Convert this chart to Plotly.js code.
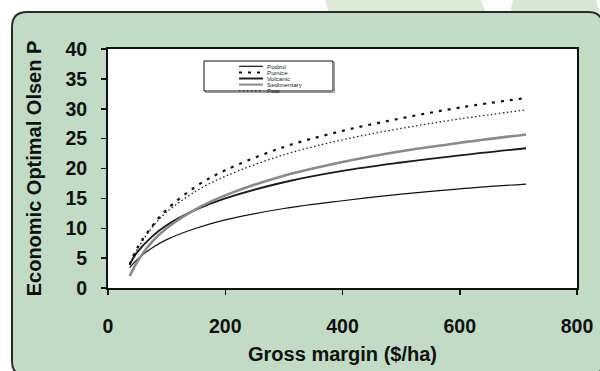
<!DOCTYPE html>
<html><head><meta charset="utf-8">
<script src="https://cdn.plot.ly/plotly-3.0.1.min.js"></script>
<style>html,body{margin:0;padding:0;background:#fff}#chart{width:600px;height:371px}</style>
</head><body><div id="chart"></div>
<script>
// ---- data ----
const grossMargin = [37, 50, 75, 100, 150, 200, 300, 400, 500, 600, 713];
const podzol      = [3.4, 4.8, 6.7, 8.1, 10.0, 11.4, 13.3, 14.6, 15.7, 16.6, 17.4];
const pumice      = [3.9, 6.7, 10.3, 13.1, 17.0, 19.7, 23.6, 26.3, 28.4, 30.2, 31.8];
const volcanic    = [4.0, 6.0, 8.6, 10.5, 13.1, 15.0, 17.7, 19.6, 21.0, 22.2, 23.4];
const sedimentary = [2.0, 4.4, 7.7, 10.0, 13.2, 15.5, 18.8, 21.1, 22.9, 24.3, 25.7];
const peat        = [3.8, 6.5, 10.1, 12.7, 16.2, 18.7, 22.3, 24.8, 26.7, 28.3, 29.8];
const seriesNames = ['Podzol', 'Pumice', 'Volcanic', 'Sedimentary', 'Peat'];
const xTickVals = [0, 200, 400, 600, 800];
const yTickVals = [0, 5, 10, 15, 20, 25, 30, 35, 40];
const xTitle = 'Gross margin ($/ha)';
const yTitle = 'Economic Optimal Olsen P';

// ---- geometry ----
const W = 600, H = 371, M = {l: 108, r: 23, t: 49, b: 83};
const PW = W - M.l - M.r, PH = H - M.t - M.b;
const X = px => (px - M.l) / PW;
const Y = py => (H - M.b - py) / PH;
const P = pts => pts.map((p, i) => (i ? 'L' : 'M') + X(p[0]).toFixed(5) + ',' + Y(p[1]).toFixed(5)).join(' ') + ' Z';

const styles = {
  Podzol:      {color: '#111', width: 1.2, dash: 'solid'},
  Pumice:      {color: '#111', width: 2.2, dash: '3px,6px'},
  Volcanic:    {color: '#1a1a1a', width: 1.9, dash: 'solid'},
  Sedimentary: {color: '#8a8a8a', width: 2.6, dash: 'solid'},
  Peat:        {color: '#222', width: 1.3, dash: '1.5px,2.5px'}
};
const seriesData = {Podzol: podzol, Pumice: pumice, Volcanic: volcanic, Sedimentary: sedimentary, Peat: peat};
const drawOrder = ['Podzol', 'Volcanic', 'Sedimentary', 'Peat', 'Pumice'];

const traces = drawOrder.map(n => ({
  type: 'scatter', mode: 'lines', name: n, x: grossMargin, y: seriesData[n],
  line: {color: styles[n].color, width: styles[n].width, dash: styles[n].dash, shape: 'spline', smoothing: 1},
  showlegend: false, hoverinfo: 'skip'
}));

// ---- decorative background + manual compact legend ----
const shapes = [];
shapes.push({type: 'path', xref: 'paper', yref: 'paper', layer: 'below', line: {width: 0},
  fillcolor: '#dcebd6', path: P([[325, 0], [481, 0], [486, 13], [329, 13]])});
shapes.push({type: 'path', xref: 'paper', yref: 'paper', layer: 'below', line: {width: 0},
  fillcolor: '#d6e8d3', path: P([[513, 0], [596, 0], [600, 13], [510, 13]])});
// green panel with rounded corners
const pl = 12, pt = 12, pr = 603, pb = 376, rad = 15;
const panelPath = [
  'M', X(pl + rad), Y(pt), 'L', X(pr - rad), Y(pt), 'Q', X(pr), Y(pt), X(pr), Y(pt + rad),
  'L', X(pr), Y(pb - rad), 'Q', X(pr), Y(pb), X(pr - rad), Y(pb),
  'L', X(pl + rad), Y(pb), 'Q', X(pl), Y(pb), X(pl), Y(pb - rad),
  'L', X(pl), Y(pt + rad), 'Q', X(pl), Y(pt), X(pl + rad), Y(pt), 'Z'
].map(v => typeof v === 'number' ? v.toFixed(5) : v).join(' ').replace(/ (-?[\d.]+) (-?[\d.]+)/g, ' $1,$2');
shapes.push({type: 'path', xref: 'paper', yref: 'paper', layer: 'below',
  fillcolor: '#c1dbc5', line: {color: '#2b2b2b', width: 2}, path: panelPath});
// white plot area
shapes.push({type: 'rect', xref: 'paper', yref: 'paper', layer: 'below', x0: 0, x1: 1, y0: 0, y1: 1,
  fillcolor: '#ffffff', line: {width: 0}});
// legend box
const lg = {x0: 204, x1: 333, y0: 61, y1: 91};
shapes.push({type: 'rect', xref: 'paper', yref: 'paper', layer: 'above',
  x0: X(lg.x0 + 1.5), x1: X(lg.x1 + 1.5), y0: Y(lg.y1 + 1.5), y1: Y(lg.y0 + 1.5),
  fillcolor: 'rgba(0,0,0,0)', line: {color: '#999', width: 1}});
shapes.push({type: 'rect', xref: 'paper', yref: 'paper', layer: 'above',
  x0: X(lg.x0), x1: X(lg.x1), y0: Y(lg.y1), y1: Y(lg.y0),
  fillcolor: '#ffffff', line: {color: '#111', width: 1}});
const annotations = [];
seriesNames.forEach((n, i) => {
  const yy = 66.3 + i * 6.1;
  const st = styles[n];
  shapes.push({type: 'line', xref: 'paper', yref: 'paper', layer: 'above',
    x0: X(239), x1: X(263), y0: Y(yy), y1: Y(yy),
    line: {color: st.color, width: Math.min(st.width, 2), dash: st.dash}});
  annotations.push({xref: 'paper', yref: 'paper', x: X(266), y: Y(yy), xanchor: 'left', yanchor: 'middle',
    text: n, showarrow: false, borderpad: 0,
    font: {family: 'Liberation Sans, Arial, sans-serif', size: 6.2, color: '#222'}});
});

const tickFont = {family: 'Liberation Sans, Arial, sans-serif', size: 19.5, weight: 'bold', color: '#111'};
const titleFont = {family: 'Liberation Sans, Arial, sans-serif', size: 20, weight: 'bold', color: '#111'};

const layout = {
  width: W, height: H, margin: M,
  paper_bgcolor: '#ffffff', plot_bgcolor: 'rgba(0,0,0,0)',
  showlegend: false,
  xaxis: {range: [0, 800], tickvals: xTickVals, ticktext: xTickVals.map(String), ticks: 'outside', ticklen: 5,
    tickwidth: 1.5, tickcolor: '#111', showline: true, mirror: true, linecolor: '#111', linewidth: 2,
    showgrid: false, zeroline: false, tickfont: tickFont, ticklabelstandoff: 15, automargin: false,
    title: {text: xTitle, font: titleFont, standoff: 11}},
  yaxis: {range: [0, 40], tickvals: yTickVals, ticktext: yTickVals.map(String), ticks: 'outside', ticklen: 5,
    tickwidth: 1.5, tickcolor: '#111', showline: true, mirror: true, linecolor: '#111', linewidth: 2,
    showgrid: false, zeroline: false, tickfont: tickFont, ticklabelstandoff: 10, automargin: false,
    title: {text: yTitle, font: titleFont, standoff: 18}},
  shapes: shapes, annotations: annotations
};

Plotly.newPlot('chart', traces, layout, {displayModeBar: false, staticPlot: true});
</script>
</body></html>
